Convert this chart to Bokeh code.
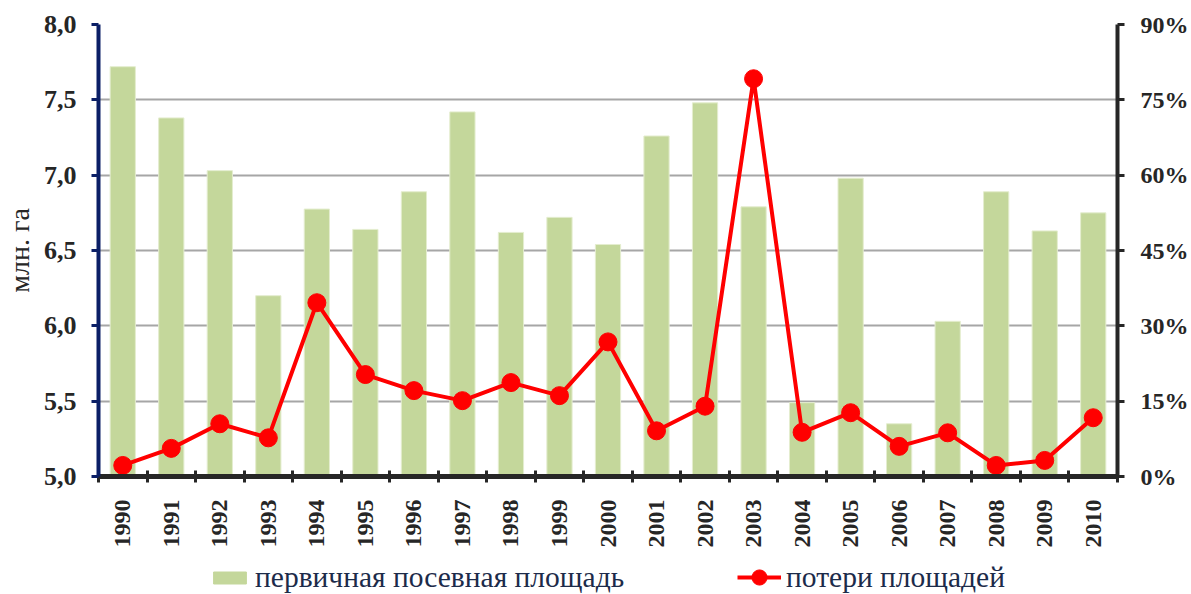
from bokeh.plotting import figure
from bokeh.layouts import column
from bokeh.models import (Range1d, LinearAxis, FixedTicker, CustomJSTickFormatter,
                          PrintfTickFormatter, Legend, LegendItem, ColumnDataSource)
from bokeh.embed import file_html
from bokeh.resources import INLINE
import math

years = [1990, 1991, 1992, 1993, 1994, 1995, 1996, 1997, 1998, 1999, 2000,
         2001, 2002, 2003, 2004, 2005, 2006, 2007, 2008, 2009, 2010]
area = [7.72, 7.38, 7.03, 6.20, 6.775, 6.64, 6.89, 7.42, 6.62, 6.72, 6.54,
        7.26, 7.48, 6.79, 5.49, 6.98, 5.35, 6.03, 6.89, 6.63, 6.75]
losses = [2.2, 5.6, 10.5, 7.7, 34.6, 20.3, 17.1, 15.1, 18.7, 16.1, 26.8,
          9.1, 14.0, 79.2, 8.8, 12.7, 6.0, 8.7, 2.2, 3.2, 11.7]
left_ticks = [5.0, 5.5, 6.0, 6.5, 7.0, 7.5, 8.0]
right_ticks = [0, 15, 30, 45, 60, 75, 90]
y_label = "млн. га"
series_names = ["первичная посевная площадь", "потери площадей"]

idx = list(range(len(years)))
src = ColumnDataSource(dict(x=idx, area=area, losses=losses))

FONT = "'Liberation Serif', 'Times New Roman', serif"
DARK = "#262626"
NAVY = "#0b1f66"
BAR_COLOR = "#c4d79b"
LINE_COLOR = "#ff0000"
LEGEND_TEXT = "#1c2b4a"

p = figure(width=1191, height=550, output_backend="svg", toolbar_location=None,
           x_range=Range1d(-0.5, len(years) - 0.5),
           y_range=Range1d(left_ticks[0], left_ticks[-1]),
           min_border_left=97, min_border_right=73, min_border_top=24,
           min_border_bottom=73)
p.outline_line_color = None
p.extra_y_ranges = {"pct": Range1d(right_ticks[0], right_ticks[-1])}

bars = p.vbar(x="x", top="area", bottom=left_ticks[0], width=0.52, source=src,
              fill_color=BAR_COLOR, line_color="#e4edcf", line_width=1)
line = p.line(x="x", y="losses", source=src, y_range_name="pct",
              line_color=LINE_COLOR, line_width=4)
dots = p.scatter(x="x", y="losses", source=src, y_range_name="pct",
                 size=18, fill_color=LINE_COLOR, line_color=LINE_COLOR)

# grid
p.xgrid.visible = False
p.ygrid.ticker = FixedTicker(ticks=left_ticks)
p.ygrid.grid_line_color = "#a6a6a6"
p.ygrid.grid_line_width = 2

# x axis
xa = p.xaxis[0]
xa.ticker = FixedTicker(ticks=idx, minor_ticks=[i - 0.5 for i in idx] + [idx[-1] + 0.5])
xa.major_label_overrides = {i: str(y) for i, y in zip(idx, years)}
xa.major_tick_in = 0
xa.major_tick_out = 0
xa.minor_tick_in = 6
xa.minor_tick_out = 6
xa.minor_tick_line_width = 3
xa.minor_tick_line_color = DARK
xa.axis_line_color = DARK
xa.axis_line_width = 5
xa.major_label_orientation = math.pi / 2
xa.major_label_standoff = 17
xa.major_label_text_font = FONT
xa.major_label_text_font_style = "bold"
xa.major_label_text_font_size = "24px"
xa.major_label_text_color = DARK

# left axis
ya = p.yaxis[0]
ya.ticker = FixedTicker(ticks=left_ticks)
ya.formatter = CustomJSTickFormatter(code="return tick.toFixed(1).replace('.', ',');")
ya.axis_line_color = NAVY
ya.axis_line_width = 4
ya.major_tick_line_color = NAVY
ya.major_tick_line_width = 3
ya.major_tick_out = 7
ya.major_tick_in = 0
ya.minor_tick_line_color = None
ya.major_label_standoff = 15
ya.major_label_text_font = FONT
ya.major_label_text_font_style = "bold"
ya.major_label_text_font_size = "26px"
ya.major_label_text_color = DARK
ya.axis_label = y_label
ya.axis_label_text_font = FONT
ya.axis_label_text_font_style = "normal"
ya.axis_label_text_font_size = "28px"
ya.axis_label_text_color = DARK
ya.axis_label_standoff = 6

# right axis
ra = LinearAxis(y_range_name="pct", ticker=FixedTicker(ticks=right_ticks),
                formatter=PrintfTickFormatter(format="%d%%"))
ra.axis_line_color = DARK
ra.axis_line_width = 4
ra.major_tick_line_color = DARK
ra.major_tick_line_width = 3
ra.major_tick_out = 7
ra.major_tick_in = 0
ra.minor_tick_line_color = None
ra.major_label_standoff = 16
ra.major_label_text_font = FONT
ra.major_label_text_font_style = "bold"
ra.major_label_text_font_size = "24px"
ra.major_label_text_color = DARK
p.add_layout(ra, "right")

# legend strip below the chart: the same series as hidden renderers,
# so that only their legend swatches show
lg = figure(width=1191, height=44, output_backend="svg", toolbar_location=None,
            x_axis_type=None, y_axis_type=None, min_border=0,
            x_range=Range1d(-0.5, len(years) - 0.5), y_range=Range1d(0, 100))
lg.outline_line_color = None
lg.xgrid.visible = False
lg.ygrid.visible = False
lb = lg.vbar(x="x", top="area", width=0.52, source=src, fill_color=BAR_COLOR,
             line_color=BAR_COLOR, visible=False)
ll = lg.line(x="x", y="losses", source=src, line_color=LINE_COLOR, line_width=4,
             visible=False)
ls = lg.scatter(x="x", y="losses", source=src, size=14, fill_color=LINE_COLOR,
                line_color=LINE_COLOR, visible=False)

common = dict(orientation="horizontal", label_standoff=5,
              label_text_font=FONT, label_text_font_size="29.5px",
              label_text_color=LEGEND_TEXT, padding=0, margin=0,
              border_line_color=None, background_fill_alpha=0,
              inactive_fill_alpha=0, click_policy="none")
legend1 = Legend(items=[LegendItem(label=series_names[0], renderers=[lb])],
                 location=(111, 0), glyph_width=41, glyph_height=15, **common)
legend2 = Legend(items=[LegendItem(label=series_names[1], renderers=[ll, ls])],
                 location=(639, -2), glyph_width=44, glyph_height=38, **common)
lg.add_layout(legend1, "center")
lg.add_layout(legend2, "center")

layout = column(p, lg, spacing=0)
open("out.html", "w").write(file_html(layout, INLINE))
